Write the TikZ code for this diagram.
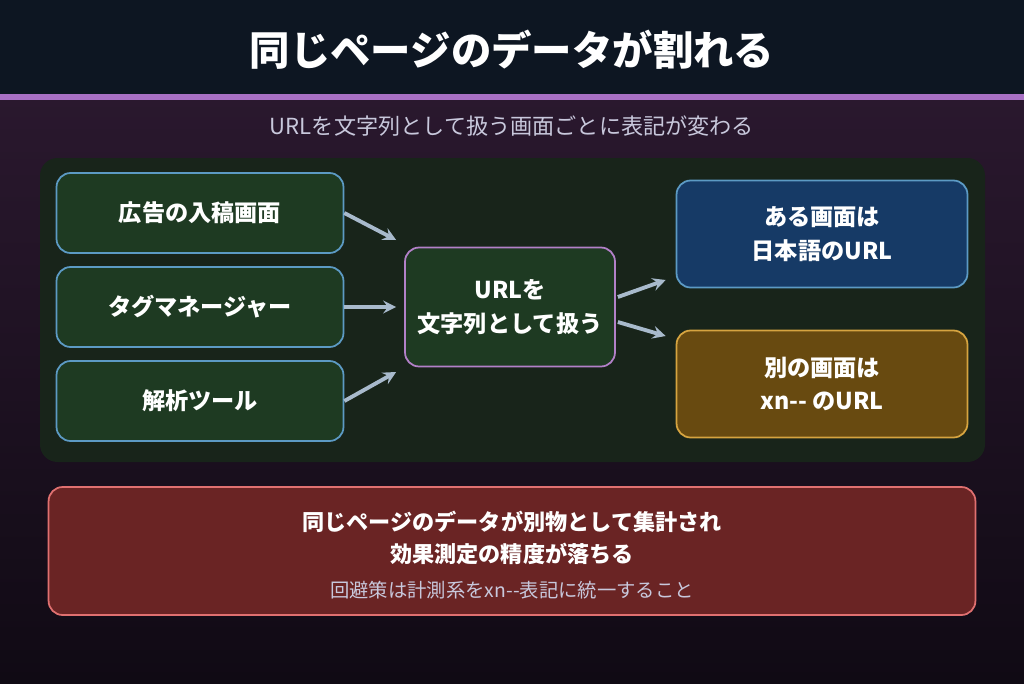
\documentclass[tikz,border=0pt]{standalone}
\usepackage{fontspec}
\setmainfont{Noto Sans CJK JP}
\usetikzlibrary{positioning}
\usetikzlibrary{calc}
\definecolor{titlebg}{RGB}{13,22,34}
\definecolor{rulepurple}{RGB}{168,112,196}
\definecolor{bgtop}{RGB}{42,24,46}
\definecolor{bgbot}{RGB}{16,10,20}
\definecolor{panelgreen}{RGB}{24,36,26}
\definecolor{boxgreen}{RGB}{30,58,34}
\definecolor{lineblue}{RGB}{92,154,196}
\definecolor{mpurple}{RGB}{178,128,200}
\definecolor{boxblue}{RGB}{22,58,102}
\definecolor{boxbrown}{RGB}{104,74,16}
\definecolor{linegold}{RGB}{214,164,64}
\definecolor{boxred}{RGB}{106,36,36}
\definecolor{linered}{RGB}{224,112,112}
\definecolor{arrowgrey}{RGB}{168,186,204}
\definecolor{subgrey}{RGB}{200,200,220}
\begin{document}
\begin{tikzpicture}[x=0.02cm, y=-0.02cm,
    box/.style={draw, line width=1pt, rounded corners=8pt, text=white, align=center, font=\bfseries\fontsize{13.2}{19}\selectfont},
    srcbox/.style={box, fill=boxgreen, draw=lineblue, minimum width=5.74cm, minimum height=1.6cm},
    arrow/.style={-stealth, line width=2.2pt, arrowgrey},
]
\useasboundingbox (0,0) rectangle (1024,683);
\shade[top color=bgtop, bottom color=bgbot] (0,95) rectangle (1024,683);
\fill[titlebg] (0,0) rectangle (1024,95);
\fill[rulepurple] (0,94) rectangle (1024,100);
\node[text=white, font=\bfseries\fontsize{23}{26}\selectfont] (title) at (512,50) {同じページのデータが割れる};
\node[text=subgrey, font=\fontsize{12.6}{15}\selectfont] (subtitle) at (512,126) {URLを文字列として扱う画面ごとに表記が変わる};

\fill[panelgreen, rounded corners=10pt] (40,158) rectangle (985,462);

\node[srcbox] (ad) at (200,213) {広告の入稿画面};
\node[srcbox] (tag) at (200,307) {タグマネージャー};
\node[srcbox] (ana) at (200,401) {解析ツール};
\node[box, fill=boxgreen, draw=mpurple, minimum width=4.2cm, minimum height=2.38cm] (url) at (510,307) {URLを\\文字列として扱う};
\node[box, fill=boxblue, draw=lineblue, minimum width=5.82cm, minimum height=2.14cm] (jp) at (822,234) {ある画面は\\日本語のURL};
\node[box, fill=boxbrown, draw=linegold, minimum width=5.82cm, minimum height=2.14cm] (xn) at (822,384) {別の画面は\\xn-{}- のURL};

\draw[arrow] (ad.east) -- ($(url.west)+(-8,-67)$);
\draw[arrow] (tag) -- ($(url.west)+(-8,0)$);
\draw[arrow] (ana.east) -- ($(url.west)+(-8,65)$);
\draw[arrow] ($(url.east)+(2,-10)$) -- ($(jp.west)+(-10,46)$);
\draw[arrow] ($(url.east)+(2,15)$) -- ($(xn.west)+(-10,-48)$);

\node[box, fill=boxred, draw=linered, minimum width=18.54cm, minimum height=2.56cm] (result) at (512,551) {};
\node[text=white, align=center, font=\bfseries\fontsize{12.6}{18}\selectfont] (res1) at (512,538) {同じページのデータが別物として集計され\\効果測定の精度が落ちる};
\node[text=subgrey, font=\fontsize{11}{13}\selectfont] (res2) at (512,590) {回避策は計測系をxn-{}-表記に統一すること};
\end{tikzpicture}
\end{document}
